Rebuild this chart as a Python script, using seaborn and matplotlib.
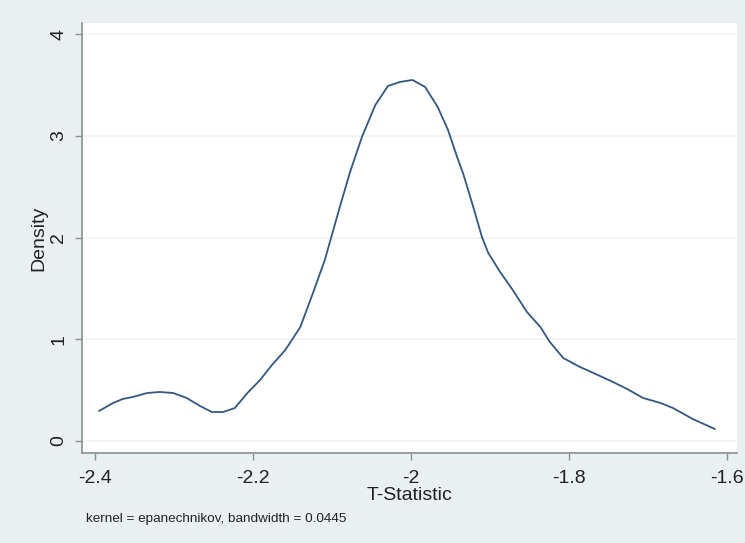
import matplotlib
matplotlib.use("Agg")
import matplotlib.pyplot as plt
import seaborn as sns
import pandas as pd

# Kernel density estimate
t_stat = [-2.395, -2.377, -2.365, -2.352, -2.334, -2.318, -2.301, -2.284, -2.267,
          -2.252, -2.238, -2.223, -2.207, -2.191, -2.176, -2.159, -2.140, -2.124,
          -2.109, -2.090, -2.077, -2.062, -2.045, -2.029, -2.014, -1.998, -1.982,
          -1.966, -1.953, -1.941, -1.934, -1.921, -1.910, -1.902, -1.887, -1.871,
          -1.853, -1.836, -1.824, -1.807, -1.786, -1.777, -1.744, -1.726, -1.706,
          -1.684, -1.668, -1.643, -1.615]
density = [0.295, 0.374, 0.413, 0.433, 0.472, 0.482, 0.472, 0.423, 0.344,
           0.285, 0.285, 0.324, 0.472, 0.600, 0.747, 0.895, 1.121, 1.455,
           1.780, 2.301, 2.645, 2.989, 3.304, 3.491, 3.530, 3.550, 3.481,
           3.284, 3.058, 2.783, 2.635, 2.301, 2.006, 1.849, 1.662, 1.485,
           1.268, 1.121, 0.973, 0.816, 0.728, 0.698, 0.580, 0.511, 0.423,
           0.374, 0.324, 0.216, 0.118]

x_ticks = [-2.4, -2.2, -2.0, -1.8, -1.6]
x_tick_labels = ["-2.4", "-2.2", "-2", "-1.8", "-1.6"]
y_ticks = [0, 1, 2, 3, 4]
y_tick_labels = ["0", "1", "2", "3", "4"]
x_title = "T-Statistic"
y_title = "Density"
note = "kernel = epanechnikov, bandwidth = 0.0445"

sns.set_style("white")
plt.rcParams["font.family"] = ["Liberation Sans", "DejaVu Sans"]

bg = "#EAEFF2"
fig = plt.figure(figsize=(7.45, 5.43), dpi=100, facecolor=bg)
ax = fig.add_axes([82 / 745, 1 - 453 / 543, (737 - 82) / 745, (453 - 23) / 543])
ax.set_facecolor("white")

df = pd.DataFrame({"T-Statistic": t_stat, "Density": density})
sns.lineplot(data=df, x="T-Statistic", y="Density", ax=ax, color="#34577F",
             linewidth=1.3, sort=False, estimator=None)

ax.set_xlim(-2.4165, -1.587)
ax.set_ylim(-0.118, 4.11)
ax.set_xticks(x_ticks)
ax.set_xticklabels(x_tick_labels)
ax.set_yticks(y_ticks)
ax.set_yticklabels(y_tick_labels, rotation=90, va="center")

ax.grid(axis="y", color="#F0F4F4", linewidth=1.2)
ax.grid(axis="x", visible=False)
ax.set_axisbelow(True)

for side in ["top", "right"]:
    ax.spines[side].set_visible(False)
for side in ["left", "bottom"]:
    ax.spines[side].set_color("#8A8F92")
    ax.spines[side].set_linewidth(1.2)

ax.tick_params(axis="both", which="major", direction="out", length=5, width=1.0,
               color="#8A8F92", labelsize=14, labelcolor="#222222",
               bottom=True, left=True)
ax.tick_params(axis="x", pad=7)
ax.tick_params(axis="y", pad=5.5)

ax.set_xlabel(x_title, fontsize=14, color="#222222", labelpad=0)
ax.set_ylabel(y_title, fontsize=14, color="#222222", labelpad=2.5)

fig.text(86 / 745, 1 - 519 / 543, note, fontsize=9.7, color="#222222",
         ha="left", va="center")

fig.savefig("out.png", dpi=100, facecolor=bg)
